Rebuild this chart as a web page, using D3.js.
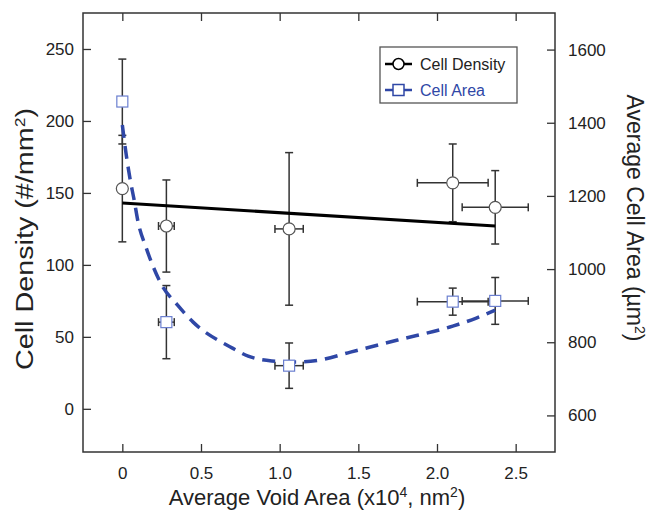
<!DOCTYPE html>
<html>
<head>
<meta charset="utf-8">
<script src="https://cdn.jsdelivr.net/npm/d3@7"></script>
<style>
  body { margin: 0; background: #fff; }
  svg { font-family: "Liberation Sans", Arial, sans-serif; }
</style>
</head>
<body>
<svg id="chart" width="647" height="513"></svg>
<script>
/* Cell density / cell area vs void area: dual-axis scatter with error bars and fits */

// measured points
const voidArea = [0, 0.28, 1.06, 2.10, 2.37];
const voidErr = [0, 0.05, 0.09, 0.225, 0.21];
const density = [153, 127, 125, 157, 140];
const densityErr = [37, 32, 53, 27, 25.5];
const cellArea = [1458, 855, 736, 911, 913];
const cellAreaErr = [116, 100, 62, 37, 64];

// linear fit of density (end points)
const densityFitX = [0, 2.37];
const densityFitY = [143, 127];

// fitted curve of cell area
const areaFitX = [0, 0.025, 0.05, 0.075, 0.1, 0.15, 0.25, 0.35, 0.45, 0.7, 0.8, 0.95, 1.1, 1.25, 1.45, 1.75, 2.1, 2.25, 2.37];
const areaFitY = [1394, 1312, 1244, 1189, 1129, 1060, 957, 902, 855, 784, 762, 749, 746, 751, 773, 806, 844, 866, 888];

const xTicks = [0, 0.5, 1.0, 1.5, 2.0, 2.5];
const leftTicks = [0, 50, 100, 150, 200, 250];
const rightTicks = [600, 800, 1000, 1200, 1400, 1600];

const BLUE = '#2f47a6';
const SQUARE = '#6b7fd0';
const INK = '#333';

const width = 647, height = 513;
const margin = { top: 13, right: 92, bottom: 61, left: 83 };

const svg = d3.select('#chart');

const x = d3.scaleLinear().domain([-0.25, 2.75]).range([margin.left, width - margin.right]);
const yL = d3.scaleLinear().domain([-30, 275]).range([height - margin.bottom, margin.top]);
const yR = d3.scaleLinear().domain([500, 1700]).range([height - margin.bottom, margin.top]);

const fmtX = d => d === 0 ? '0' : d3.format('.1f')(d);

// axes, ticks pointing inward
svg.append('g')
  .attr('transform', `translate(0,${height - margin.bottom})`)
  .call(d3.axisBottom(x).tickValues(xTicks).tickFormat(fmtX).tickSizeInner(-8).tickSizeOuter(0).tickPadding(15));

svg.append('g')
  .attr('transform', `translate(0,${margin.top})`)
  .call(d3.axisTop(x).tickValues(xTicks).tickFormat('').tickSizeInner(-8).tickSizeOuter(0));

svg.append('g')
  .attr('transform', `translate(${margin.left},0)`)
  .call(d3.axisLeft(yL).tickValues(leftTicks).tickSizeInner(-8).tickSizeOuter(0).tickPadding(9));

svg.append('g')
  .attr('transform', `translate(${width - margin.right},0)`)
  .call(d3.axisRight(yR).tickValues(rightTicks).tickFormat(d3.format('d')).tickSizeInner(-8).tickSizeOuter(0).tickPadding(13));

svg.selectAll('.domain').remove();
svg.selectAll('.tick line').attr('stroke', INK).attr('stroke-width', 1.3);
svg.selectAll('.tick text').attr('fill', '#222').attr('font-size', 17).attr('font-family', null);

// frame
svg.append('rect')
  .attr('x', margin.left).attr('y', margin.top)
  .attr('width', width - margin.left - margin.right)
  .attr('height', height - margin.top - margin.bottom)
  .attr('fill', 'none').attr('stroke', INK).attr('stroke-width', 1.5);

// axis titles
const ttl = svg.append('g').attr('fill', '#222');
ttl.append('text')
  .attr('transform', 'translate(33,239) rotate(-90)')
  .attr('text-anchor', 'middle').attr('font-size', 23)
  .attr('textLength', 262).attr('lengthAdjust', 'spacingAndGlyphs')
  .html('Cell Density (#/mm<tspan dy="-8" font-size="14">2</tspan><tspan dy="8">)</tspan>');

ttl.append('text')
  .attr('transform', 'translate(627,218) rotate(90)')
  .attr('text-anchor', 'middle').attr('font-size', 23)
  .html('Average Cell Area (µm<tspan dy="-8" font-size="14">2</tspan><tspan dy="8">)</tspan>');

ttl.append('text')
  .attr('x', 317).attr('y', 505)
  .attr('text-anchor', 'middle').attr('font-size', 22)
  .html('Average Void Area (x10<tspan dy="-8" font-size="14">4</tspan><tspan dy="8">, nm</tspan><tspan dy="-8" font-size="14">2</tspan><tspan dy="8">)</tspan>');

// error bars
const pts = voidArea.map((v, i) => ({
  x: v, xe: voidErr[i],
  d: density[i], de: densityErr[i],
  a: cellArea[i], ae: cellAreaErr[i]
}));

const cap = 4;
const err = svg.append('g').attr('stroke', INK).attr('stroke-width', 1.5).attr('fill', 'none');

function errorBars(getY, getE, yScale) {
  pts.forEach(p => {
    const cx = x(p.x), cy = yScale(getY(p));
    const y0 = yScale(getY(p) - getE(p)), y1 = yScale(getY(p) + getE(p));
    err.append('line').attr('x1', cx).attr('x2', cx).attr('y1', y0).attr('y2', y1);
    err.append('line').attr('x1', cx - cap).attr('x2', cx + cap).attr('y1', y0).attr('y2', y0);
    err.append('line').attr('x1', cx - cap).attr('x2', cx + cap).attr('y1', y1).attr('y2', y1);
    if (p.xe > 0) {
      const x0 = x(p.x - p.xe), x1 = x(p.x + p.xe);
      err.append('line').attr('x1', x0).attr('x2', x1).attr('y1', cy).attr('y2', cy);
      err.append('line').attr('x1', x0).attr('x2', x0).attr('y1', cy - cap).attr('y2', cy + cap);
      err.append('line').attr('x1', x1).attr('x2', x1).attr('y1', cy - cap).attr('y2', cy + cap);
    }
  });
}
errorBars(p => p.d, p => p.de, yL);
errorBars(p => p.a, p => p.ae, yR);

// fits
svg.append('path')
  .datum(densityFitX.map((v, i) => [v, densityFitY[i]]))
  .attr('fill', 'none').attr('stroke', '#000').attr('stroke-width', 3)
  .attr('d', d3.line().x(d => x(d[0])).y(d => yL(d[1])));

svg.append('path')
  .datum(areaFitX.map((v, i) => [v, areaFitY[i]]))
  .attr('fill', 'none').attr('stroke', BLUE).attr('stroke-width', 3.5)
  .attr('stroke-dasharray', '13,8')
  .attr('d', d3.line().curve(d3.curveMonotoneX).x(d => x(d[0])).y(d => yR(d[1])));

// markers
svg.append('g').selectAll('circle')
  .data(pts).join('circle')
  .attr('cx', d => x(d.x)).attr('cy', d => yL(d.d)).attr('r', 6)
  .attr('fill', '#fff').attr('stroke', '#555').attr('stroke-width', 1.2);

svg.append('g').selectAll('rect')
  .data(pts).join('rect')
  .attr('x', d => x(d.x) - 5.5).attr('y', d => yR(d.a) - 5.5)
  .attr('width', 11).attr('height', 11)
  .attr('fill', '#fff').attr('stroke', SQUARE).attr('stroke-width', 1.2);

// legend
const lg = svg.append('g').attr('transform', 'translate(380,47)');
lg.append('rect').attr('width', 137).attr('height', 56)
  .attr('fill', '#fff').attr('stroke', '#555').attr('stroke-width', 1.3);

const e1 = lg.append('g').attr('transform', 'translate(0,17)');
e1.append('line').attr('x1', 5).attr('x2', 32).attr('stroke', '#000').attr('stroke-width', 2.5);
e1.append('circle').attr('cx', 18.5).attr('r', 5.5).attr('fill', '#fff').attr('stroke', '#000').attr('stroke-width', 1.5);
e1.append('text').attr('x', 40).attr('dy', '0.35em').attr('font-size', 16).attr('fill', '#222').text('Cell Density');

const e2 = lg.append('g').attr('transform', 'translate(0,43)');
e2.append('line').attr('x1', 5).attr('x2', 32).attr('stroke', BLUE).attr('stroke-width', 2.5);
e2.append('rect').attr('x', 13).attr('y', -5.5).attr('width', 11).attr('height', 11)
  .attr('fill', '#fff').attr('stroke', BLUE).attr('stroke-width', 1.5);
e2.append('text').attr('x', 40).attr('dy', '0.35em').attr('font-size', 16).attr('fill', BLUE).text('Cell Area');
</script>
</body>
</html>
